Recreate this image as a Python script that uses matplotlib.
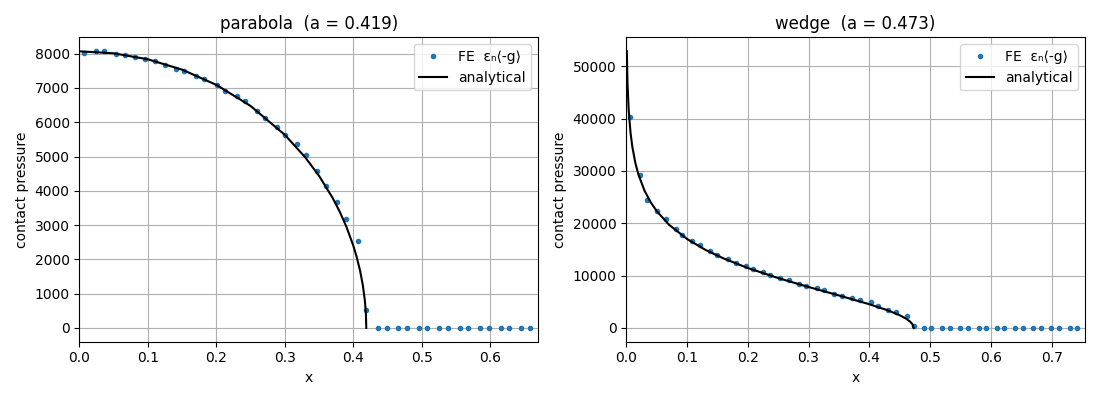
import matplotlib
matplotlib.use("Agg")
import matplotlib.pyplot as plt

# parabola: FE contact pressure
par_x = [0.006, 0.0239, 0.0355, 0.0531, 0.0663, 0.0819, 0.0955, 0.1111, 0.1243,
         0.1408, 0.1535, 0.170, 0.1827, 0.2013, 0.213, 0.230, 0.2417, 0.2592,
         0.2709, 0.2885, 0.3002, 0.3183, 0.3314, 0.347, 0.360, 0.3767, 0.390,
         0.4069, 0.419,
         0.436, 0.449, 0.465, 0.4785, 0.496, 0.508, 0.525, 0.5385, 0.556,
         0.5677, 0.585, 0.598, 0.616, 0.6277, 0.645, 0.658]
par_p = [8016, 8074, 8074, 7987, 7958, 7900, 7842, 7784, 7656,
         7540, 7493, 7348, 7261, 7087, 6912, 6776, 6631, 6340,
         6128, 5847, 5614, 5353, 5033, 4577, 4153, 3660, 3166,
         2527, 523,
         0, 0, 0, 0, 0, 0, 0, 0, 0,
         0, 0, 0, 0, 0, 0, 0]

# parabola: analytical curve
par_ax = [0.0, 0.05, 0.1, 0.15, 0.2, 0.25, 0.3, 0.33, 0.35, 0.37, 0.38, 0.39,
          0.40, 0.405, 0.41, 0.414, 0.417, 0.4185, 0.419]
par_ap = [8070, 8012, 7837, 7535, 7091, 6476, 5634, 4973, 4437, 3787, 3400, 2950,
          2402, 2069, 1664, 1243, 787, 395, 0]

# wedge: FE contact pressure
wed_x = [0.0069, 0.0223, 0.0344, 0.0509, 0.0648, 0.0813, 0.0917, 0.1088, 0.122,
         0.1375, 0.150, 0.1666, 0.1805, 0.197, 0.208, 0.2245, 0.2372, 0.2537,
         0.2674, 0.284, 0.2962, 0.3137, 0.326, 0.3425, 0.355, 0.3716, 0.3854,
         0.402, 0.4135, 0.431, 0.4438, 0.4615, 0.4736,
         0.490, 0.502, 0.520, 0.532, 0.550, 0.5623, 0.580, 0.5926, 0.610,
         0.6223, 0.640, 0.6526, 0.670, 0.6818, 0.6995, 0.712, 0.730, 0.7418]
wed_p = [40210, 29151, 24442, 22345, 20820, 18856, 17712, 16568, 15806,
         14776, 13956, 13136, 12488, 11859, 11230, 10658, 10086, 9438,
         9056, 8294, 7912, 7607, 7150, 6463, 6139, 5701, 5319,
         4862, 4233, 3470, 3031, 2326, 419,
         0, 0, 0, 0, 0, 0, 0, 0, 0,
         0, 0, 0, 0, 0, 0, 0, 0, 0]

# wedge: analytical curve
wed_ax = [0.0009, 0.002, 0.004, 0.007, 0.01, 0.015, 0.02, 0.03, 0.04, 0.05, 0.07,
          0.1, 0.13, 0.16, 0.2, 0.25, 0.3, 0.35, 0.4, 0.43, 0.45, 0.46, 0.467,
          0.471, 0.473]
wed_ap = [52880, 46810, 41540, 37290, 34580, 31490, 29310, 26220, 24030, 22330, 19750,
          16990, 14930, 13280, 11440, 9520, 7815, 6200, 4520, 3370, 2420, 1800, 1220,
          700, 0]

fe_label = "FE  \u03b5\u2099\u27e8-g\u27e9"

fig, (ax1, ax2) = plt.subplots(1, 2, figsize=(11, 4), dpi=100)

ax1.plot(par_x, par_p, '.', label=fe_label)
ax1.plot(par_ax, par_ap, 'k-', label='analytical')
ax1.set_xlim(0, 0.67)
ax1.set_title("parabola  (a = 0.419)")
ax1.set_xlabel("x")
ax1.set_ylabel("contact pressure")
ax1.grid(True)
ax1.legend(loc='upper right')

ax2.plot(wed_x, wed_p, '.', label=fe_label)
ax2.plot(wed_ax, wed_ap, 'k-', label='analytical')
ax2.set_xlim(0, 0.755)
ax2.set_title("wedge  (a = 0.473)")
ax2.set_xlabel("x")
ax2.set_ylabel("contact pressure")
ax2.grid(True)
ax2.legend(loc='upper right')

fig.tight_layout()
fig.savefig("out.png")
